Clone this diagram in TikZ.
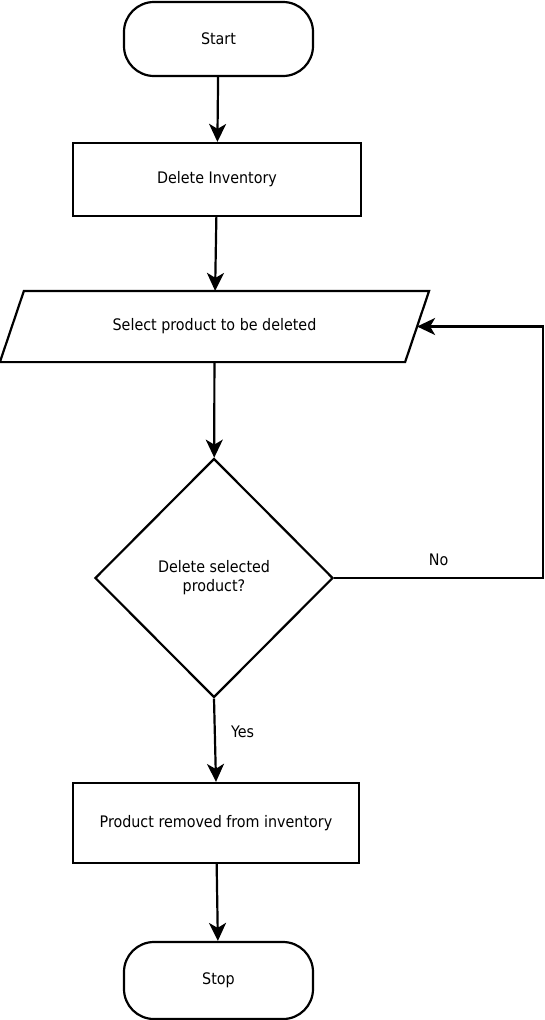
\documentclass[tikz,border=0pt]{standalone}
\usepackage{fontspec}
\IfFontExistsTF{DejaVu Sans Condensed}{%
  \setmainfont{DejaVu Sans Condensed}
  \newcommand\chartsize{\fontsize{15.9}{19}\selectfont}}{%
  \setmainfont{DejaVu Sans}
  \newcommand\chartsize{\fontsize{14.3}{17.5}\selectfont}}
\usetikzlibrary{arrows.meta,shapes.geometric}

\tikzset{
  terminal/.style={draw, rectangle, rounded corners=30pt, minimum width=189pt, minimum height=74pt},
  process/.style={draw, rectangle, minimum width=288pt, minimum height=73pt},
  io/.style={rectangle, minimum width=403pt, minimum height=69pt}, % 枠は後で平行四辺形に
  decision/.style={draw, diamond, minimum width=238pt, minimum height=239pt, align=center},
  flow/.style={-{Stealth[length=18pt,width=17pt,inset=5pt]}}
}

\begin{document}
\begin{tikzpicture}[x=1pt, y=-1pt, line width=2.2pt, font=\chartsize] % 1px = 1pt、y軸は下向き
  \useasboundingbox (0,0) rectangle (544,1020); % 余白込みの大きさ

  \node[terminal] (start) at (218.5,39) {Start}; % 開始
  \node[process] (delinv) at (217,179.5) {Delete Inventory};
  \node[io] (select) at (214.5,326.5) {Select product to be deleted}; % 入力
  \draw ([xshift=12pt]select.north west) -- ([xshift=12pt]select.north east)
    -- ([xshift=-12pt]select.south east) -- ([xshift=-12pt]select.south west) -- cycle; % 平行四辺形
  \node[decision] (ask) at (214,578) {Delete selected\\product?}; % 判断
  \node[process, minimum width=286pt, minimum height=80pt] (removed) at (216,823) {Product removed from inventory};
  \node[terminal, minimum height=77pt] (stop) at (218.5,980.5) {Stop}; % 終了

  \coordinate (noturn) at (543,578); % Noの折り返し点

  \draw[flow] (start) -- (delinv);
  \draw[flow] (delinv) -- (select);
  \draw[flow] (select) -- (ask);
  \draw[flow] (ask.east) -- node[above=8pt] {No} (noturn) |- (select.east); % 戻りの矢印
  \draw[flow] (ask.south) -- node[pos=0.4, right=12pt] {Yes} (removed.north);
  \draw[flow] (removed) -- (stop);

\end{tikzpicture}
\end{document}
